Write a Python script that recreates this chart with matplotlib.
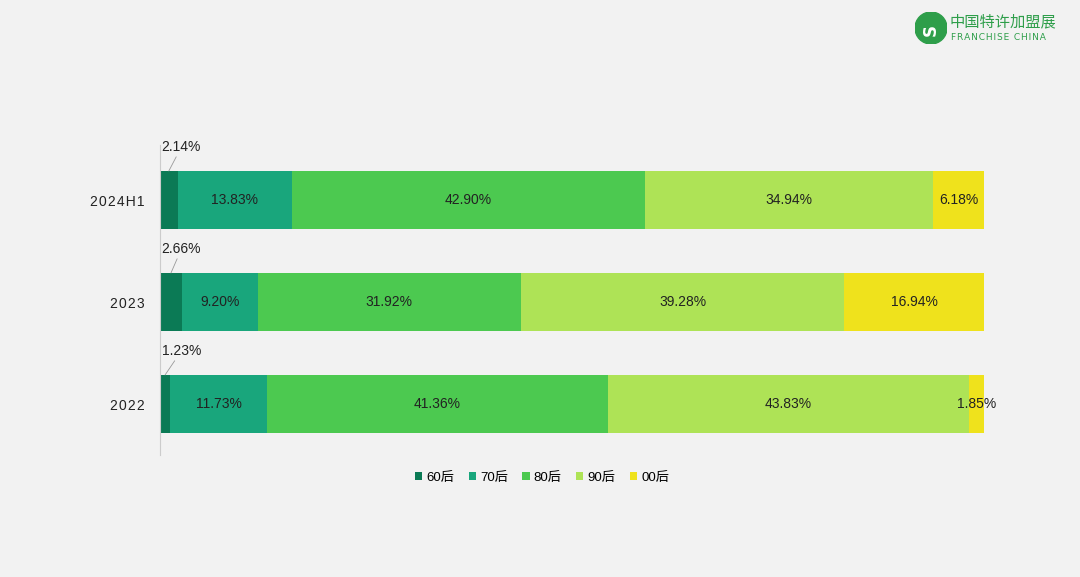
import numpy as np
import matplotlib.pyplot as plt
from matplotlib.patches import Circle

plt.rcParams['font.family'] = ['Liberation Sans', 'Noto Sans CJK SC', 'DejaVu Sans']

# 数据
years = ['2022', '2023', '2024H1']
groups = ['60后', '70后', '80后', '90后', '00后']
v60 = [1.23, 2.66, 2.14]
v70 = [11.73, 9.20, 13.83]
v80 = [41.36, 31.92, 42.90]
v90 = [43.83, 39.28, 34.94]
v00 = [1.85, 16.94, 6.18]
colors = ['#0b7a55', '#19a67c', '#4cc950', '#aee356', '#efe21c']

bg = '#f2f2f2'
fig = plt.figure(figsize=(10.8, 5.77), dpi=100, facecolor=bg)
ax = fig.add_axes([160/1080, 1-455/577, 824/1080, 310/577], facecolor=bg)

series = [v60, v70, v80, v90, v00]
y = np.arange(len(years))
left = np.zeros(len(years))
for i, vals in enumerate(series):
    vals = np.array(vals)
    ax.barh(y, vals, left=left, height=0.57, color=colors[i], label=groups[i])
    for j, v in enumerate(vals):
        s = '%.2f%%' % v
        if i == 0:
            # 小值放到上方，加引线
            ax.annotate(s, xy=(left[j] + v/2, y[j] + 0.285), xytext=(0.2, y[j] + 0.52),
                        textcoords='data', fontsize=10, color='#222222', ha='left', va='center',
                        arrowprops=dict(arrowstyle='-', color='#999999', lw=0.6,
                                        shrinkA=0, shrinkB=0))
        else:
            ax.text(left[j] + v/2, y[j], s, ha='center', va='center', fontsize=10, color='#222222')
    left = left + vals

ax.set_xlim(0, 100)
ax.set_ylim(-0.5, 2.54)
ax.set_yticks(y)
ax.set_yticklabels(['\u200a'.join(list(t)) for t in years], fontsize=10, color='#222222')
ax.tick_params(axis='y', length=0, pad=11)
ax.set_xticks([])
for sp in ['top', 'right', 'bottom']:
    ax.spines[sp].set_visible(False)
ax.spines['left'].set_color('#cccccc')
ax.spines['left'].set_linewidth(0.8)

fig.legend(loc='center', bbox_to_anchor=(542/1080, 1-478/577), ncol=5, frameon=False,
           fontsize=9.5, handlelength=0.55, handleheight=0.55, handletextpad=0.3, columnspacing=1.1)

# logo
logo = fig.add_axes([915/1080, 1-44/577, 32/1080, 32/577])
logo.set_aspect('equal')
logo.add_patch(Circle((0.5, 0.5), 0.5, color='#2e9e4a'))
logo.text(0.5, 0.45, 'S', ha='center', va='center', color='white', fontsize=12, fontweight='bold',
          rotation=90, family='DejaVu Sans')
logo.set_xlim(0, 1)
logo.set_ylim(0, 1)
logo.axis('off')
fig.text(950/1080, 1-22/577, '中国特许加盟展', fontsize=11, color='#2e9e4a', va='center', ha='left',
         family='Noto Sans CJK SC')
fig.text(951/1080, 1-38/577, '\u200a'.join(list('FRANCHISE CHINA')), fontsize=6.5, color='#2e9e4a',
         va='center', ha='left', family='DejaVu Sans')

fig.savefig('out.png', dpi=100, facecolor=bg)
